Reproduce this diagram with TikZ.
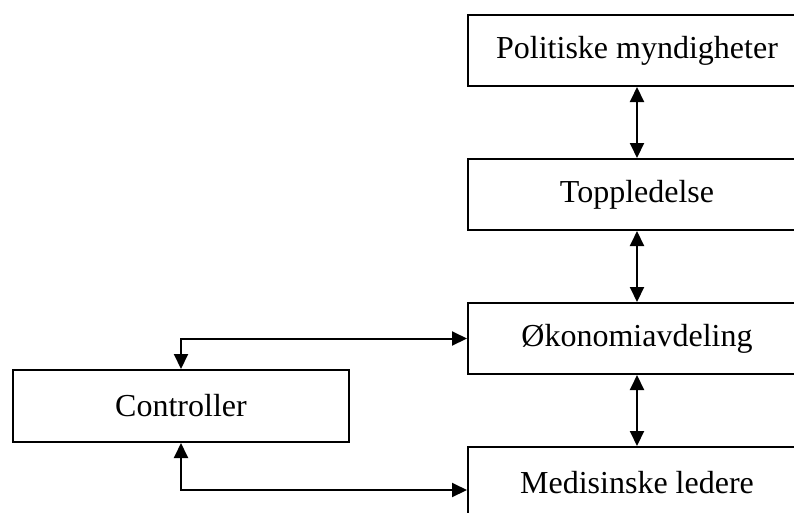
\documentclass[tikz,border=0pt]{standalone}
\usepackage{fontspec}
\setmainfont{Liberation Serif}
\usetikzlibrary{arrows.meta}

\tikzset{
    boks/.style={draw, line width=2pt, minimum width=338pt, minimum height=71pt,
        inner sep=0pt, font=\fontsize{32}{38}\selectfont},
    pil/.style={line width=2pt, >={Triangle[length=15pt,width=14pt]}}
}

\begin{document}
\begin{tikzpicture}[x=1pt, y=-1pt]

    % Frame
    \useasboundingbox (0,0) rectangle (794,512);
    \clip (0,0) rectangle (794,512);

    % Boxes
    \node[boks] (pol) at (637,50.5) {Politiske myndigheter};
    \node[boks] (topp) at (637,194.5) {Toppledelse};
    \node[boks] (oko) at (637,338.5) {Økonomiavdeling};
    \node[boks] (med) at (637,482.5) {Medisinske ledere};
    \node[boks, minimum width=336pt, minimum height=72pt] (ctrl) at (181,406) {Controller};

    % Arrows
    \draw[pil,<->] (pol) -- (topp);
    \draw[pil,<->] (topp) -- (oko);
    \draw[pil,<->] (oko) -- (med);
    \draw[pil,<->] (oko.west) -| (ctrl.north);
    \draw[pil,<->] (ctrl.south) |- ([yshift=-7.5pt]med.west);

\end{tikzpicture}
\end{document}
